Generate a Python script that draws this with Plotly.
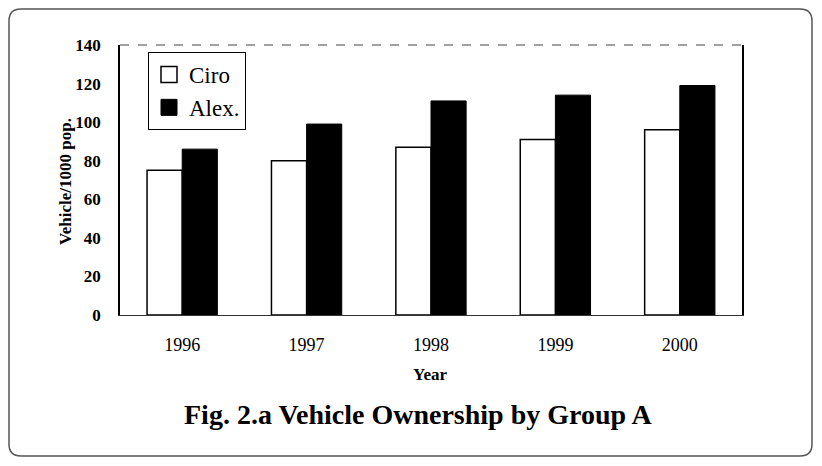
import plotly.graph_objects as go

years = ["1996", "1997", "1998", "1999", "2000"]
ciro = [75, 80, 87, 91, 96]
alex = [86, 99, 111, 114, 119]
y_ticks = [0, 20, 40, 60, 80, 100, 120, 140]

SERIF = "Liberation Serif, Times New Roman, serif"

# page body has an 8px margin; work in screenshot coords and convert
OFF = 8
W, H = 806, 450
L = 120 - OFF
R = W - (742 - OFF)
T = 45 - OFF
B = H - (315 - OFF)
pw, ph = W - L - R, H - T - B

def px(x):
    return (x - OFF - L) / pw

def py(y):
    return (H - B - (y - OFF)) / ph

fig = go.Figure()
fig.add_trace(go.Bar(x=years, y=ciro, name="Ciro", showlegend=False,
                     marker=dict(color="white", line=dict(color="black", width=1.5))))
fig.add_trace(go.Bar(x=years, y=alex, name="Alex.", showlegend=False,
                     marker=dict(color="black", line=dict(color="black", width=1))))
# legend proxies with larger square symbols
fig.add_trace(go.Scatter(x=[None], y=[None], mode="markers", name="Ciro",
                         marker=dict(symbol="square", size=16, color="white",
                                     line=dict(color="black", width=1.5))))
fig.add_trace(go.Scatter(x=[None], y=[None], mode="markers", name="Alex.",
                         marker=dict(symbol="square", size=16, color="black",
                                     line=dict(color="black", width=1))))

# rounded outer frame (screenshot coords)
x0, x1, y0, y1 = 9, 812, 9, 456
r = 12
rx, ry = r / pw, r / ph
X0, X1, Y0, Y1 = px(x0), px(x1), py(y0), py(y1)
path = (f"M {X0+rx},{Y0} L {X1-rx},{Y0} Q {X1},{Y0} {X1},{Y0-ry} "
        f"L {X1},{Y1+ry} Q {X1},{Y1} {X1-rx},{Y1} "
        f"L {X0+rx},{Y1} Q {X0},{Y1} {X0},{Y1+ry} "
        f"L {X0},{Y0-ry} Q {X0},{Y0} {X0+rx},{Y0} Z")

fig.update_layout(
    width=W, height=H,
    margin=dict(l=L, r=R, t=T, b=B),
    paper_bgcolor="white", plot_bgcolor="white",
    barmode="group", bargap=0.435, bargroupgap=0,
    font=dict(family=SERIF, color="black"),
    showlegend=True,
    legend=dict(x=px(148), y=py(52), xanchor="left", yanchor="top",
                bordercolor="black", borderwidth=1, bgcolor="white",
                font=dict(family=SERIF, size=23, color="black"),
                tracegroupgap=0, itemwidth=30),
    xaxis=dict(showline=True, linecolor="#333", linewidth=1, mirror=False,
               ticks="", ticklabelstandoff=13,
               tickfont=dict(family=SERIF, size=18)),
    yaxis=dict(range=[0, 140], tickvals=y_ticks, ticktext=[f"<b>{v}</b>" for v in y_ticks],
               showgrid=False, zeroline=False,
               showline=True, linecolor="black", linewidth=1.5, mirror=True,
               ticks="", ticklabelstandoff=14,
               tickfont=dict(family=SERIF, size=17)),
    shapes=[
        dict(type="line", xref="paper", yref="paper", x0=0, x1=1, y0=1, y1=1,
             line=dict(color="#444", width=1.2, dash="dash")),
        dict(type="path", xref="paper", yref="paper", path=path,
             line=dict(color="#555", width=1.5)),
    ],
    annotations=[
        dict(text="<b>Vehicle/1000 pop.</b>", xref="paper", yref="paper",
             x=px(65), y=py(182), xanchor="center", yanchor="middle", showarrow=False,
             textangle=-90, font=dict(family=SERIF, size=17, color="black")),
        dict(text="<b>Year</b>", xref="paper", yref="paper",
             x=px(430), y=py(374), xanchor="center", yanchor="middle", showarrow=False,
             font=dict(family=SERIF, size=17, color="black")),
        dict(text="<b>Fig. 2.a Vehicle Ownership by Group A</b>", xref="paper", yref="paper",
             x=px(418), y=py(415), xanchor="center", yanchor="middle", showarrow=False,
             font=dict(family=SERIF, size=28, color="black")),
    ],
)

fig.write_html("out.html")
